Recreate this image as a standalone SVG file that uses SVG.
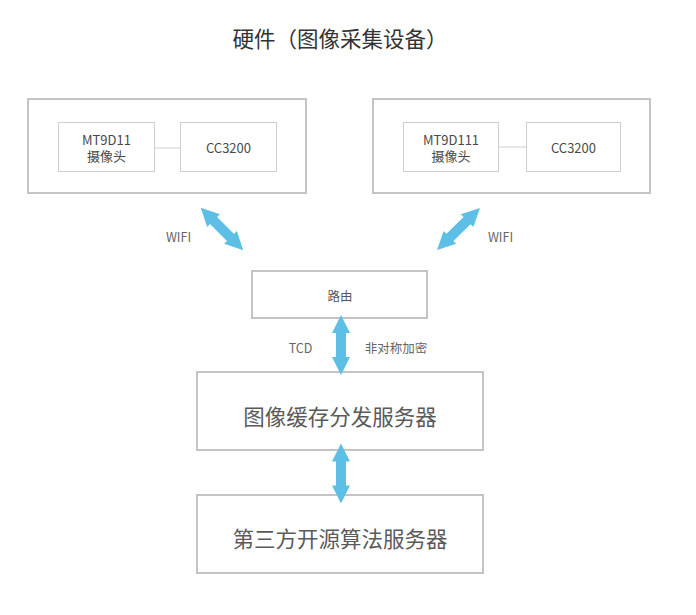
<svg xmlns="http://www.w3.org/2000/svg" width="696" height="615" viewBox="0 0 696 615">
<style>
  text { font-family: "Noto Sans CJK SC", "Noto Sans", sans-serif; fill: #555; text-anchor: middle; dominant-baseline: central; }
  .title { font-size: 21.5px; fill: #333; }
  .outer { fill: #fff; stroke: #c4c4c4; stroke-width: 2; }
  .inner { fill: #fff; stroke: #cfcfcf; stroke-width: 1; }
  .big { font-size: 21.5px; fill: #5a5a5a; }
  .small { font-size: 13px; fill: #4a4a4a; }
  .lbl { font-size: 12.5px; fill: #666; }
  .arrow { fill: #5dbfe6; }
  .link { stroke: #cfcfcf; stroke-width: 1; fill: none; }
</style>
<defs>
  <polygon id="dblarrow" points="-30,0 -12,-9 -12,-5 12,-5 12,-9 30,0 12,9 12,5 -12,5 -12,9"/>
</defs>
<rect width="696" height="615" fill="#fff"/>
<text class="title" x="340" y="37">硬件（图像采集设备）</text>

<g id="device-left">
  <rect class="outer" x="28" y="99" width="278" height="94"/>
</g>
<g id="cam-left">
  <rect class="inner" x="58.5" y="122.5" width="96" height="49"/>
  <text class="small" x="106.5" y="139">MT9D11</text>
  <text class="small" x="106.5" y="155">摄像头</text>
</g>
<g id="cc-left">
  <rect class="inner" x="180.5" y="122.5" width="96" height="49"/>
  <text class="small" x="228.5" y="147">CC3200</text>
</g>

<g id="device-right">
  <rect class="outer" x="373" y="99" width="277" height="94"/>
</g>
<g id="cam-right">
  <rect class="inner" x="403.5" y="122.5" width="95" height="49"/>
  <text class="small" x="451" y="139">MT9D111</text>
  <text class="small" x="451" y="155">摄像头</text>
</g>
<g id="cc-right">
  <rect class="inner" x="526.5" y="122.5" width="94" height="49"/>
  <text class="small" x="573.5" y="147">CC3200</text>
</g>

<g id="router">
  <rect class="outer" x="252" y="271" width="175" height="47"/>
  <text class="lbl" x="340" y="295" style="fill:#555">路由</text>
</g>

<g id="cache-server">
  <rect class="outer" x="197" y="372" width="286" height="78"/>
  <text class="big" x="340" y="415">图像缓存分发服务器</text>
</g>

<g id="algo-server">
  <rect class="outer" x="197" y="495" width="286" height="78"/>
  <text class="big" x="340" y="537">第三方开源算法服务器</text>
</g>

<g id="connectors">
  <line class="link" x1="154.5" y1="148" x2="180.5" y2="148"/>
  <line class="link" x1="498.5" y1="147" x2="526.5" y2="147"/>
  <use href="#dblarrow" class="arrow" transform="translate(222,229) rotate(45)"/>
  <use href="#dblarrow" class="arrow" transform="translate(458.5,229) rotate(-44.3)"/>
  <use href="#dblarrow" class="arrow" transform="translate(341,345) rotate(90)"/>
  <use href="#dblarrow" class="arrow" transform="translate(341,473.5) rotate(90)"/>
  <text class="lbl" x="178.5" y="236">WIFI</text>
  <text class="lbl" x="500.5" y="236">WIFI</text>
  <text class="lbl" x="300.5" y="347">TCD</text>
  <text class="lbl" x="396" y="347">非对称加密</text>
</g>
</svg>
